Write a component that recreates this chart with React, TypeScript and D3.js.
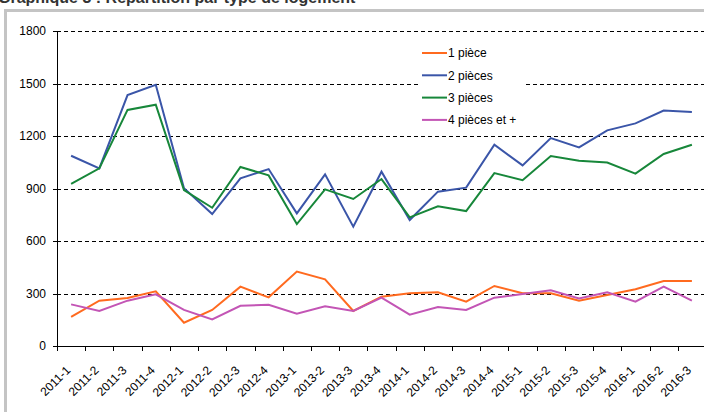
import { useRef, useEffect } from "react";
import * as d3 from "d3";

const WIDTH = 704;
const HEIGHT = 412;

const quarters = [
  "2011-1", "2011-2", "2011-3", "2011-4",
  "2012-1", "2012-2", "2012-3", "2012-4",
  "2013-1", "2013-2", "2013-3", "2013-4",
  "2014-1", "2014-2", "2014-3", "2014-4",
  "2015-1", "2015-2", "2015-3", "2015-4",
  "2016-1", "2016-2", "2016-3",
];

const onePiece = [166, 259, 274, 312, 133, 206, 339, 278, 425, 381, 200, 282, 301, 307, 253, 343, 301, 301, 259, 291, 324, 371, 371];
const twoPieces = [1087, 1015, 1434, 1493, 901, 754, 958, 1011, 758, 981, 682, 996, 720, 882, 905, 1150, 1032, 1188, 1135, 1232, 1272, 1345, 1337];
const threePieces = [926, 1015, 1349, 1379, 891, 790, 1023, 975, 697, 895, 840, 954, 735, 798, 771, 988, 947, 1086, 1059, 1048, 985, 1097, 1150];
const fourPlus = [238, 200, 259, 295, 206, 152, 230, 236, 185, 227, 200, 276, 179, 223, 206, 276, 297, 318, 272, 307, 253, 339, 259];

const seriesNames = ["1 pièce", "2 pièces", "3 pièces", "4 pièces et +"];
const seriesColors = ["#ff6a1f", "#3a55a8", "#17873a", "#c355b5"];
const yTicks = [0, 300, 600, 900, 1200, 1500, 1800];

const FONT = "'Liberation Sans', Arial, sans-serif";

export default function App() {
  const svgRef = useRef<SVGSVGElement>(null);

  useEffect(() => {
    if (!svgRef.current) return;
    const svg = d3.select(svgRef.current);
    svg.selectAll("*").remove();

    const left = 57;
    const top = 31;
    const bottom = 346;

    const x = d3.scaleBand<string>().domain(quarters).range([left, 706]);
    const y = d3.scaleLinear().domain([0, 1800]).range([bottom, top]);
    const cx = (q: string) => (x(q) ?? 0) + x.bandwidth() / 2;

    // title, cropped by the top edge like in the source
    svg
      .append("text")
      .attr("x", -2)
      .attr("y", 3)
      .attr("font-family", FONT)
      .attr("font-size", 16)
      .attr("font-weight", 700)
      .attr("fill", "#333")
      .text("Graphique 3 : Répartition par type de logement");

    // frame
    svg
      .append("rect")
      .attr("x", 5.5)
      .attr("y", 10.5)
      .attr("width", 800)
      .attr("height", 500)
      .attr("fill", "#fff")
      .attr("stroke", "#c4c4c4")
      .attr("stroke-width", 3);

    // gridlines
    svg
      .append("g")
      .selectAll("line")
      .data(yTicks.filter((t) => t > 0))
      .join("line")
      .attr("x1", left)
      .attr("x2", WIDTH)
      .attr("y1", (d) => Math.round(y(d)) + 0.5)
      .attr("y2", (d) => Math.round(y(d)) + 0.5)
      .attr("stroke", "#000")
      .attr("stroke-width", 1)
      .attr("stroke-dasharray", "4,3");

    // y axis
    const yAxis = svg.append("g");
    yAxis
      .append("line")
      .attr("x1", left + 0.5)
      .attr("x2", left + 0.5)
      .attr("y1", top)
      .attr("y2", bottom)
      .attr("stroke", "#000");
    yAxis
      .selectAll("line.tick")
      .data(yTicks)
      .join("line")
      .attr("class", "tick")
      .attr("x1", left - 4)
      .attr("x2", left)
      .attr("y1", (d) => Math.round(y(d)) + 0.5)
      .attr("y2", (d) => Math.round(y(d)) + 0.5)
      .attr("stroke", "#000");
    yAxis
      .selectAll("text")
      .data(yTicks)
      .join("text")
      .attr("x", left - 11)
      .attr("y", (d) => y(d))
      .attr("dy", "0.36em")
      .attr("text-anchor", "end")
      .attr("font-family", FONT)
      .attr("font-size", 12)
      .attr("fill", "#000")
      .text((d) => String(d));

    // x axis
    const xAxis = svg.append("g");
    xAxis
      .append("line")
      .attr("x1", left)
      .attr("x2", WIDTH)
      .attr("y1", bottom + 0.5)
      .attr("y2", bottom + 0.5)
      .attr("stroke", "#000");
    xAxis
      .selectAll("line.tick")
      .data(quarters)
      .join("line")
      .attr("class", "tick")
      .attr("x1", (d) => Math.round(x(d) ?? 0) + 0.5)
      .attr("x2", (d) => Math.round(x(d) ?? 0) + 0.5)
      .attr("y1", bottom)
      .attr("y2", bottom + 5)
      .attr("stroke", "#000");
    xAxis
      .selectAll("text")
      .data(quarters)
      .join("text")
      .attr("transform", (d) => `translate(${cx(d) - 6},${bottom + 19}) rotate(-45)`)
      .attr("dy", "0.71em")
      .attr("text-anchor", "end")
      .attr("font-family", FONT)
      .attr("font-size", 12)
      .attr("fill", "#000")
      .text((d) => d);

    // lines
    const allSeries = [onePiece, twoPieces, threePieces, fourPlus];
    const line = d3
      .line<number>()
      .x((_, i) => cx(quarters[i]))
      .y((d) => y(d));

    // blue and green first, then the small-unit series on top
    [1, 2, 0, 3].forEach((si) => {
      svg
        .append("path")
        .datum(allSeries[si])
        .attr("d", line)
        .attr("fill", "none")
        .attr("stroke", seriesColors[si])
        .attr("stroke-width", 2)
        .attr("stroke-linejoin", "miter");
    });

    // legend
    const legend = svg.append("g");
    legend
      .append("rect")
      .attr("x", 420)
      .attr("y", 40)
      .attr("width", 106)
      .attr("height", 90)
      .attr("fill", "#fff");
    const rows = legend
      .selectAll("g")
      .data(seriesNames)
      .join("g")
      .attr("transform", (_, i) => `translate(422,${53 + i * 22.3})`);
    rows
      .append("line")
      .attr("x1", 0)
      .attr("x2", 25)
      .attr("stroke", (_, i) => seriesColors[i])
      .attr("stroke-width", 2);
    rows
      .append("text")
      .attr("x", 26)
      .attr("dy", "0.36em")
      .attr("font-family", FONT)
      .attr("font-size", 12)
      .attr("fill", "#000")
      .text((d) => d);
  }, []);

  return (
    <svg
      ref={svgRef}
      width={WIDTH}
      height={HEIGHT}
      style={{ position: "absolute", left: 0, top: 0, background: "#fff" }}
    />
  );
}
